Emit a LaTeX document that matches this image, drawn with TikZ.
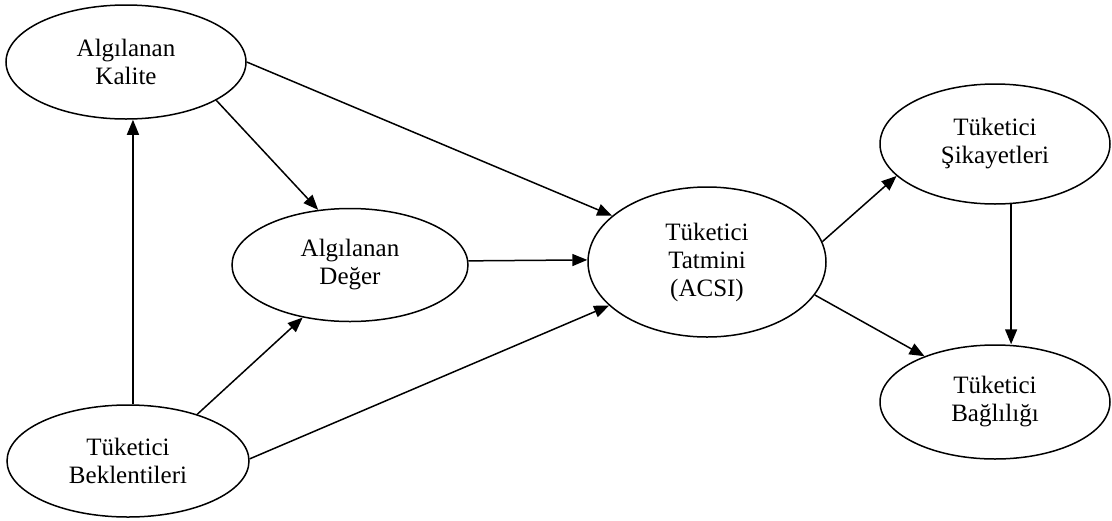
\documentclass[tikz,border=0pt]{standalone}
\usepackage{fontspec}
\setmainfont{Liberation Serif}
\usetikzlibrary{shapes.geometric,arrows.meta}
\tikzset{
  oval/.style={ellipse, draw, line width=1.5pt, inner sep=0pt, align=center,
    font=\fontsize{25}{28}\selectfont},
  link/.style={line width=1.5pt, -{Triangle[length=15pt,width=12pt]}}
}
\begin{document}
\begin{tikzpicture}[x=1pt,y=-1pt]
\useasboundingbox (0,0) rectangle (1112,520);
\node[oval, minimum width=240pt, minimum height=114pt] (kal) at (126,62) {Algılanan\\Kalite};
\node[oval, minimum width=236pt, minimum height=113pt] (deg) at (350,265) {Algılanan\\Değer};
\node[oval, minimum width=242pt, minimum height=112pt] (bek) at (128,461) {Tüketici\\Beklentileri};
\node[oval, minimum width=238pt, minimum height=150pt] (tat) at (707,262) {Tüketici\\Tatmini\\(ACSI)};
\node[oval, minimum width=230pt, minimum height=120pt] (sik) at (995,144) {Tüketici\\Şikayetleri};
\node[oval, minimum width=230pt, minimum height=114pt] (bag) at (995,402) {Tüketici\\Bağlılığı};

\draw[link] (bek.85) -- (bek.85 |- kal.south);
\draw[link] (kal.-23) -- (deg.120);
\draw[link] (kal.east) -- (tat.154.7);
\draw[link] (deg.2) -- (tat.179);
\draw[link] (bek.34.8) -- (deg.228.3);
\draw[link] (bek.1) -- (tat.204.3);
\draw[link] (tat.10.7) -- (sik.198.6);
\draw[link] (tat.-17.3) -- (bag.147.5);
\draw[link] (sik.-75) -- (sik.-75 |- bag.north);
\end{tikzpicture}
\end{document}
